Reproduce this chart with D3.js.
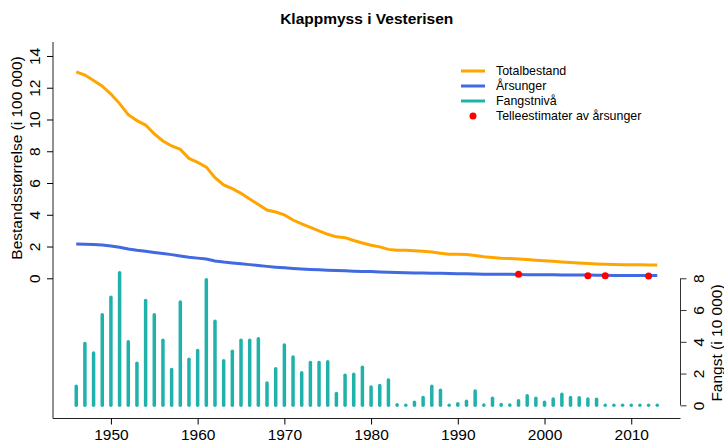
<!DOCTYPE html>
<html>
<head>
<meta charset="utf-8">
<script src="https://cdn.jsdelivr.net/npm/d3@7"></script>
<style>
  html, body { margin: 0; padding: 0; background: #fff; }
  svg { display: block; font-family: "Liberation Sans", Arial, Helvetica, sans-serif; }
</style>
</head>
<body>
<svg id="chart" width="724" height="444"></svg>
<script>
// ---- data ----
const years = d3.range(1946, 2014);
const totalbestand = [13.0, 12.8, 12.45, 12.1, 11.6, 11.0, 10.3, 9.93, 9.65, 9.1,
  8.65, 8.33, 8.12, 7.55, 7.3, 7.0, 6.34, 5.88, 5.64, 5.35,
  5.0, 4.64, 4.3, 4.17, 3.99, 3.67, 3.42, 3.21, 2.98, 2.77,
  2.61, 2.56, 2.38, 2.22, 2.08, 1.98, 1.82, 1.77, 1.76, 1.74,
  1.70, 1.65, 1.58, 1.52, 1.51, 1.50, 1.44, 1.36, 1.31, 1.26,
  1.24, 1.21, 1.18, 1.14, 1.11, 1.07, 1.03, 1.00, 0.96, 0.93,
  0.90, 0.88, 0.87, 0.86, 0.85, 0.85, 0.84, 0.84];
const arsunger = [2.16, 2.15, 2.13, 2.09, 2.04, 1.96, 1.84, 1.76, 1.70, 1.63,
  1.56, 1.49, 1.41, 1.33, 1.27, 1.21, 1.09, 1.02, 0.97, 0.91,
  0.86, 0.80, 0.75, 0.70, 0.66, 0.62, 0.59, 0.56, 0.53, 0.51,
  0.49, 0.47, 0.45, 0.43, 0.42, 0.40, 0.38, 0.37, 0.35, 0.34,
  0.33, 0.32, 0.31, 0.30, 0.29, 0.28, 0.27, 0.26, 0.26, 0.25,
  0.25, 0.24, 0.23, 0.23, 0.22, 0.22, 0.21, 0.21, 0.20, 0.20,
  0.19, 0.19, 0.18, 0.18, 0.17, 0.17, 0.17, 0.17];
const fangst = [1.2, 3.9, 3.3, 5.7, 6.8, 8.35, 4.0, 2.65, 6.6, 5.7,
  4.1, 2.25, 6.5, 2.9, 3.45, 7.9, 5.3, 2.8, 3.4, 4.1,
  4.1, 4.2, 1.4, 2.3, 3.8, 3.05, 2.05, 2.7, 2.7, 2.75,
  0.75, 1.9, 1.95, 2.4, 1.15, 1.25, 1.6, 0.03, 0.0, 0.2,
  0.5, 1.2, 0.95, 0.0, 0.1, 0.25, 0.9, 0.02, 0.45, 0.05,
  0.02, 0.28, 0.6, 0.45, 0.2, 0.4, 0.7, 0.5, 0.48, 0.4,
  0.38, 0.0, 0.0, 0.0, 0.0, 0.0, 0.0, 0.0];
const telleYears = [1997, 2005, 2007, 2012];
const telleValues = [0.25, 0.16, 0.16, 0.15];
const xTicks = [1950, 1960, 1970, 1980, 1990, 2000, 2010];
const yLeftTicks = [0, 2, 4, 6, 8, 10, 12, 14];
const yRightTicks = [0, 2, 4, 6, 8];
const legendLabels = ["Totalbestand", "Årsunger", "Fangstnivå", "Telleestimater av årsunger"];
const colors = { total: "#FFA500", unger: "#4169E1", fangst: "#20B2AA", telle: "#FF0000" };

// ---- layout ----
const svg = d3.select("#chart");
const L = 53, R = 680.5, T = 42, B = 418.5;
const x = d3.scaleLinear().domain([1943.32, 2015.68]).range([L, R]);
const yL = d3.scaleLinear().domain([-8.83, 14.88]).range([B, T]);
const yR = d3.scaleLinear().domain([-0.83, 22.88]).range([B, T]);
const fs = 15.5;

// title
svg.append("text").attr("x", (L + R) / 2).attr("y", 24)
  .attr("text-anchor", "middle").attr("font-weight", "bold")
  .attr("font-size", fs).text("Klappmyss i Vesterisen");

// box (L shape)
svg.append("path").attr("d", `M${L},${T}V${B}H${R}`)
  .attr("fill", "none").attr("stroke", "#222").attr("stroke-width", 1);

// bottom axis
const gx = svg.append("g").attr("transform", `translate(0,${B})`)
  .call(d3.axisBottom(x).tickValues(xTicks).tickFormat(d3.format("d")).tickSize(6).tickPadding(4));
gx.select(".domain").remove();
gx.selectAll("text").attr("font-size", fs).attr("font-family", null).attr("fill", "#000");
gx.selectAll("line").attr("stroke", "#000");

// left axis
const gy = svg.append("g").attr("transform", `translate(${L},0)`)
  .call(d3.axisLeft(yL).tickValues(yLeftTicks).tickSize(6));
gy.select(".domain").remove();
gy.selectAll("line").attr("stroke", "#000");
gy.selectAll("text").attr("font-size", fs).attr("font-family", null).attr("fill", "#000")
  .attr("x", null).attr("dy", null)
  .attr("transform", "translate(-19,0) rotate(-90)")
  .attr("text-anchor", "middle").attr("dominant-baseline", "central");

// right axis
const gr = svg.append("g").attr("transform", `translate(${R},0)`)
  .call(d3.axisRight(yR).tickValues(yRightTicks).tickSize(6));
gr.select(".domain").remove();
gr.append("line").attr("x1", 0).attr("x2", 0)
  .attr("y1", yR(0)).attr("y2", yR(8)).attr("stroke", "#333");
gr.selectAll("line").attr("stroke", "#333");
gr.selectAll("text").attr("font-size", fs).attr("font-family", null).attr("fill", "#000")
  .attr("x", null).attr("dy", null)
  .attr("transform", "translate(18,0) rotate(-90)")
  .attr("text-anchor", "middle").attr("dominant-baseline", "central");

// axis titles
svg.append("text").attr("transform", `translate(16,158) rotate(-90)`)
  .attr("text-anchor", "middle").attr("dominant-baseline", "central")
  .attr("font-size", fs).text("Bestandsstørrelse (i 100 000)");
svg.append("text").attr("transform", `translate(716,343) rotate(-90)`)
  .attr("text-anchor", "middle").attr("dominant-baseline", "central")
  .attr("font-size", fs).text("Fangst (i 10 000)");

// bars (catch)
svg.append("g").selectAll("line").data(years).join("line")
  .attr("x1", (d) => x(d)).attr("x2", (d) => x(d))
  .attr("y1", yR(0)).attr("y2", (d, i) => yR(fangst[i]))
  .attr("stroke", colors.fangst).attr("stroke-width", 3.5)
  .attr("stroke-linecap", "round");

// lines
const line = (vals) => d3.line().x((d, i) => x(years[i])).y((d) => yL(d))(vals);
svg.append("path").attr("d", line(totalbestand)).attr("fill", "none")
  .attr("stroke", colors.total).attr("stroke-width", 3);
svg.append("path").attr("d", line(arsunger)).attr("fill", "none")
  .attr("stroke", colors.unger).attr("stroke-width", 3);

// count estimates
svg.append("g").selectAll("circle").data(telleYears).join("circle")
  .attr("cx", (d) => x(d)).attr("cy", (d, i) => yL(telleValues[i]))
  .attr("r", 3.5).attr("fill", colors.telle);

// legend
const lg = svg.append("g").attr("font-size", 12.4);
const ly0 = 71, ldy = 15;
const lcol = [colors.total, colors.unger, colors.fangst];
legendLabels.forEach((lab, i) => {
  const yy = ly0 + i * ldy;
  if (i < 3) {
    lg.append("line").attr("x1", 461).attr("x2", 485).attr("y1", yy).attr("y2", yy)
      .attr("stroke", lcol[i]).attr("stroke-width", 3);
  } else {
    lg.append("circle").attr("cx", 473).attr("cy", yy).attr("r", 3.5).attr("fill", colors.telle);
  }
  lg.append("text").attr("x", 496).attr("y", yy).attr("dominant-baseline", "central").text(lab);
});
</script>
</body>
</html>
